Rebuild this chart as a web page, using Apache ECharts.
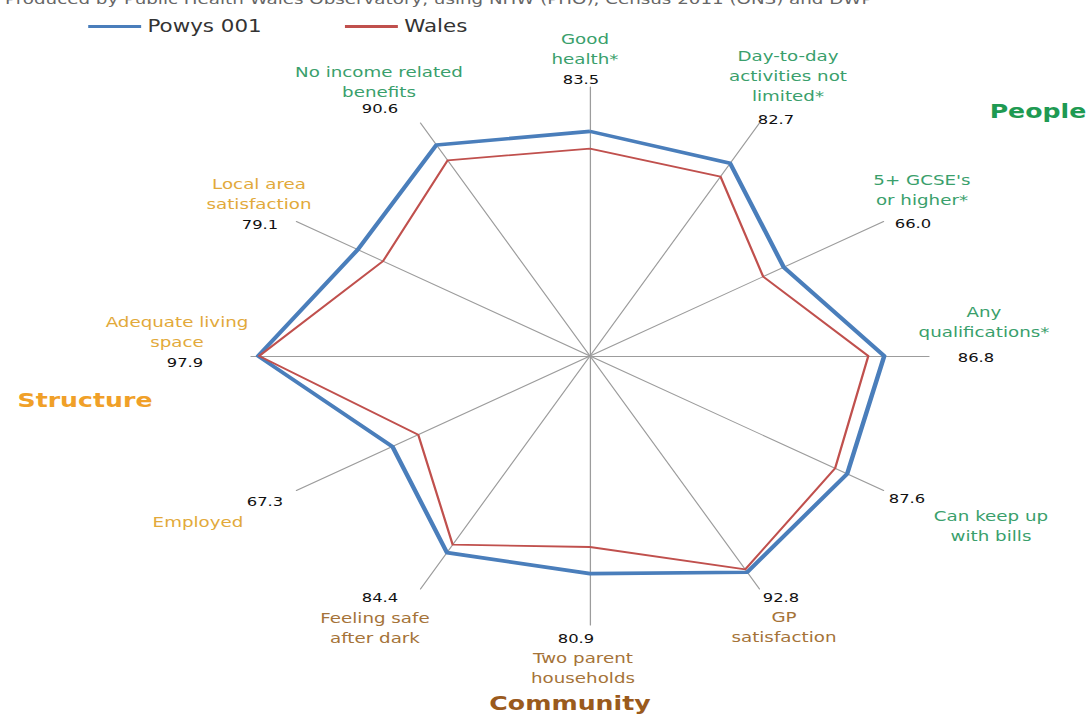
<!DOCTYPE html>
<html><head><meta charset="utf-8">
<script src="https://cdn.jsdelivr.net/npm/echarts@6/dist/echarts.min.js"></script>
<style>
html,body{margin:0;padding:0;background:#fff;overflow:hidden;width:1091px;height:715px}
#wrap{width:1091px;height:715px;overflow:hidden;position:relative}
#chart{width:866px;height:715px;transform:scaleX(1.2602);transform-origin:0 0;position:absolute;left:0;top:0}
</style></head><body>
<div id="wrap"><div id="chart"></div></div>
<script>
// Data (clockwise from the top axis)
const categories = ['Good\nhealth*', 'Day-to-day\nactivities not\nlimited*', "5+ GCSE's\nor higher*", 'Any\nqualifications*', 'Can keep up\nwith bills', 'GP\nsatisfaction', 'Two parent\nhouseholds', 'Feeling safe\nafter dark', 'Employed', 'Adequate living\nspace', 'Local area\nsatisfaction', 'No income related\nbenefits'];
const groups = ['People', 'People', 'People', 'People', 'People', 'Community', 'Community', 'Community', 'Structure', 'Structure', 'Structure', 'People'];
const powys = [83.5, 82.7, 66.0, 86.8, 87.6, 92.8, 80.9, 84.4, 67.3, 97.9, 79.1, 90.6];
const wales = [77.1, 77.0, 59.0, 82.1, 83.5, 91.6, 71.0, 81.0, 58.5, 97.6, 70.5, 84.0];
const seriesNames = ['Powys 001', 'Wales'];
const groupNames = ['People', 'Structure', 'Community'];
const sourceNote = 'Produced by Public Health Wales Observatory, using NHW (PHO), Census 2011 (ONS) and DWP';

// Layout / style
const S = 339 / 269;            // horizontal stretch applied by CSS
const CX = 590, CY = 356, R = 269; // final-pixel centre and vertical radius
const groupColor = { People: '#3a9f6c', Structure: '#e2a93a', Community: '#a57338' };
const groupTitleColor = { People: '#1e9a52', Structure: '#f0a028', Community: '#9a5a1c' };
const groupTitlePos = { People: [1038, 111], Structure: [85, 400], Community: [570, 703] };
// label offsets from the axis end (final px): value dx, dy, name dx, first-line dy
const labelOff = [
  [-9, -8, -5, -48], [16.5, -4, 28.5, -67], [29.4, 1.5, 38.4, -41.5], [47, 1, 55, -44],
  [23.4, 7.5, 107.4, 25.5], [21.5, 8, 24.5, 28], [-14, 13, -7, 33], [-40.5, 8, -45.5, 29],
  [-31.4, 10.5, -98.4, 31.5], [-66, 6, -74, -34], [-36.4, 2.5, -37.4, -37.5], [-40.5, -15, -41.5, -51]
];
const FONT = '"DejaVu Sans", Verdana, sans-serif';

// ECharts radar lays out indicators counter-clockwise: reorder
const n = categories.length;
const order = [0];
for (let k = n - 1; k >= 1; k--) order.push(k);
const pick = arr => order.map(i => arr[i]);

const graphics = [];
graphics.push({ type: 'text', x: 5 / S, y: -1, style: { text: sourceNote, fill: '#666', fontSize: 14.5, fontFamily: FONT, align: 'left', verticalAlign: 'middle' } });
for (let i = 0; i < n; i++) {
  const th = (90 - 30 * i) * Math.PI / 180;
  const ex = CX + R * S * Math.cos(th);
  const ey = CY - R * Math.sin(th);
  const o = labelOff[i];
  graphics.push({ type: 'text', x: (ex + o[2]) / S, y: ey + o[3] - 10,
    style: { text: categories[i], fill: groupColor[groups[i]], fontSize: 14.5, fontFamily: FONT, lineHeight: 20, align: 'center', verticalAlign: 'top' } });
  graphics.push({ type: 'text', x: (ex + o[0]) / S, y: ey + o[1],
    style: { text: powys[i].toFixed(1), fill: '#111', fontSize: 13, fontFamily: FONT, align: 'center', verticalAlign: 'middle' } });
}
groupNames.forEach(g => {
  const p = groupTitlePos[g];
  graphics.push({ type: 'text', x: p[0] / S, y: p[1],
    style: { text: g, fill: groupTitleColor[g], fontSize: 20, fontWeight: 'bold', fontFamily: FONT, align: 'center', verticalAlign: 'middle' } });
});

const chart = echarts.init(document.getElementById('chart'), null, { renderer: 'svg' });
chart.setOption({
  animation: false,
  backgroundColor: '#fff',
  legend: {
    left: 65, top: 13, itemWidth: 42, itemHeight: 3, itemGap: 66, icon: 'rect',
    textStyle: { fontSize: 17, color: '#333', fontFamily: FONT },
    data: seriesNames
  },
  radar: {
    center: [CX / S, CY], radius: R, startAngle: 90, shape: 'polygon', splitNumber: 1,
    indicator: pick(categories).map(c => ({ name: c, min: 0, max: 100 })),
    axisName: { show: false },
    splitLine: { show: false }, splitArea: { show: false },
    axisLine: { lineStyle: { color: '#9c9c9c', width: 1 } }
  },
  graphic: graphics,
  series: [{
    type: 'radar', symbol: 'none', silent: true,
    data: [
      { name: seriesNames[0], value: pick(powys), itemStyle: { color: '#4a7ebb' }, lineStyle: { color: '#4a7ebb', width: 3.6 } },
      { name: seriesNames[1], value: pick(wales), itemStyle: { color: '#c0504d' }, lineStyle: { color: '#c0504d', width: 1.8 } }
    ]
  }]
});
</script>
</body></html>
